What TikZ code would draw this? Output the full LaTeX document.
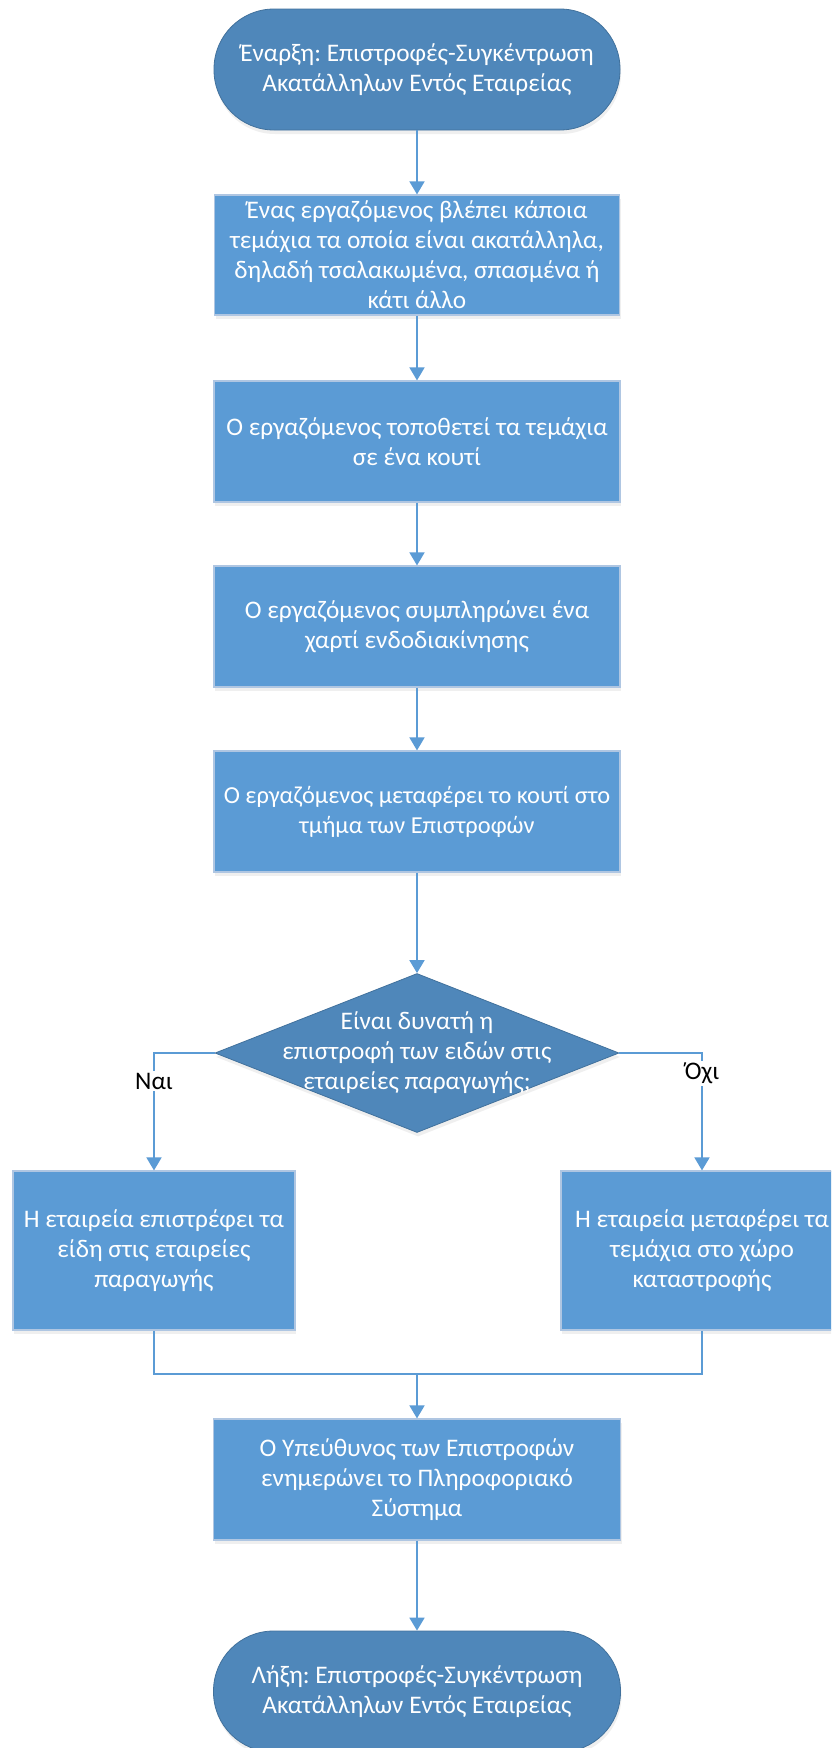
\documentclass[tikz,border=0pt]{standalone}
\usepackage{fontspec}
\setmainfont{Carlito}
\frenchspacing
\usetikzlibrary{shapes.geometric,arrows.meta,shadows}
\definecolor{boxblue}{HTML}{5B9BD5}
\definecolor{termblue}{HTML}{4F87BA}
\definecolor{termedge}{HTML}{41719C}
\definecolor{boxedge}{HTML}{AFC6E2}
\definecolor{lineblue}{HTML}{5B9BD5}
\tikzset{
  txt/.style={font=\fontsize{25.3}{30}\selectfont, text=white, align=center},
  procbox/.style={txt, rectangle, fill=boxblue, draw=boxedge, line width=1.2pt, inner sep=0pt,
    drop shadow={opacity=0.12, shadow xshift=1pt, shadow yshift=-4pt}},
  termbox/.style={txt, rectangle, rounded corners=60pt, fill=termblue, draw=termedge, line width=0.8pt, inner sep=0pt,
    minimum width=406pt, minimum height=121pt,
    drop shadow={opacity=0.12, shadow xshift=1pt, shadow yshift=-4pt}},
  decbox/.style={diamond, fill=termblue, draw=termedge, line width=0.8pt, inner sep=0pt,
    minimum width=404pt, minimum height=159pt,
    drop shadow={opacity=0.12, shadow xshift=1pt, shadow yshift=-4pt}},
  conn/.style={draw=lineblue, line width=1.8pt},
  arr/.style={conn, -{Triangle[width=15pt,length=13pt]}},
  lbl/.style={font=\fontsize{25.3}{30}\selectfont, text=black, fill=white, inner sep=2pt}
}
\begin{document}
\begin{tikzpicture}[x=1pt,y=-1pt]
\useasboundingbox (0,0) rectangle (831,1748);
\clip (0,0) rectangle (831,1748);
\fill[white] (0,0) rectangle (831,1748);

\node[termbox] (start) at (417,69.5) {Έναρξη: Επιστροφές-Συγκέντρωση\\Ακατάλληλων Εντός Εταιρείας};
\node[procbox, minimum width=405pt, minimum height=120pt] (b1) at (417,255)
  {Ένας εργαζόμενος βλέπει κάποια\\τεμάχια τα οποία είναι ακατάλληλα,\\δηλαδή τσαλακωμένα, σπασμένα ή\\κάτι άλλο};
\node[procbox, minimum width=406pt, minimum height=121pt] (b2) at (417,441.5)
  {Ο εργαζόμενος τοποθετεί τα τεμάχια\\σε ένα κουτί};
\node[procbox, minimum width=406pt, minimum height=121pt] (b3) at (417,626.5)
  {Ο εργαζόμενος συμπληρώνει ένα\\χαρτί ενδοδιακίνησης};
\node[procbox, minimum width=406pt, minimum height=121pt, font=\fontsize{24.4}{30}\selectfont] (b4) at (417,811.5)
  {Ο εργαζόμενος μεταφέρει το κουτί στο\\τμήμα των Επιστροφών};
\node[decbox] (dec) at (417,1053) {};
\node[txt] (dectext) at (dec.center) {Είναι δυνατή η\\επιστροφή των ειδών στις\\εταιρείες παραγωγής;};
\node[procbox, minimum width=282pt, minimum height=159pt] (L) at (154,1250.5)
  {Η εταιρεία επιστρέφει τα\\είδη στις εταιρείες\\παραγωγής};
\node[procbox, minimum width=282pt, minimum height=159pt] (R) at (702,1250.5)
  {Η εταιρεία μεταφέρει τα\\τεμάχια στο χώρο\\καταστροφής};
\node[procbox, minimum width=407pt, minimum height=121pt] (b5) at (417,1479.5)
  {Ο Υπεύθυνος των Επιστροφών\\ενημερώνει το Πληροφοριακό\\Σύστημα};
\node[termbox, minimum width=407pt] (end) at (417,1691.5) {Λήξη: Επιστροφές-Συγκέντρωση\\Ακατάλληλων Εντός Εταιρείας};

\draw[arr] (start.south) -- (b1.north);
\draw[arr] (b1.south) -- (b2.north);
\draw[arr] (b2.south) -- (b3.north);
\draw[arr] (b3.south) -- (b4.north);
\draw[arr] (b4.south) -- (dec.north);
\draw[arr] (dec.west) -| (L.north);
\draw[arr] (dec.east) -| (R.north);
\node[lbl] (yes) at (154,1081) {Ναι};
\node[lbl] (no) at (702,1073) {Όχι};
\coordinate (m) at (417,1374);
\draw[conn] (L.south) |- (m) -| (R.south);
\draw[arr] (m) -- (b5.north);
\draw[arr] (b5.south) -- (end.north);
\end{tikzpicture}
\end{document}
